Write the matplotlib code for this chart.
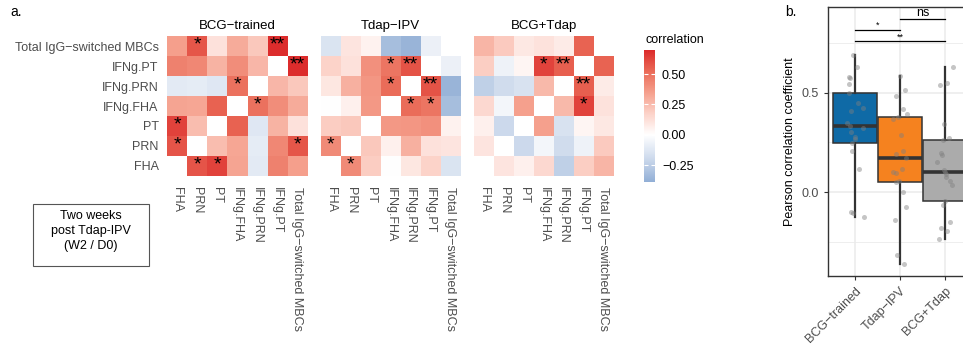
"""Correlation heatmaps per group and boxplot of the pairwise correlations."""
import numpy as np
import matplotlib
matplotlib.use("Agg")
import matplotlib.pyplot as plt
from matplotlib.colors import LinearSegmentedColormap, Normalize
from matplotlib.cm import ScalarMappable
from matplotlib.patches import Rectangle

plt.rcParams['font.family'] = ['Liberation Sans', 'DejaVu Sans']

# Variables (bottom-to-top on y, left-to-right on x)
variables = ["FHA", "PRN", "PT", "IFNg.FHA", "IFNg.PRN", "IFNg.PT",
             "Total IgG\u2212switched MBCs"]
groups = ["BCG\u2212trained", "Tdap\u2212IPV", "BCG+Tdap"]

# Pair order: (0,1) (0,2) ... (0,6) (1,2) ... (5,6)
r_bcg = [0.582, 0.633, 0.333, -0.108, 0.448, 0.350, 0.246, 0.325, -0.099, 0.426, 0.577,
         0.545, -0.126, 0.280, 0.115, 0.498, 0.409, 0.305, 0.269, 0.207, 0.692]
sig_bcg = ["*", "*", "", "", "", "", "", "", "", "", "*",
           "", "", "", "", "*", "", "", "", "", "**"]
jit_bcg = [-0.126, 0.037, -0.11, -0.044, 0.067, -0.17, -0.06, 0.178, -0.08, 0.17, -0.11,
           -0.133, 0.19, 0.0, 0.09, -0.14, -0.08, -0.08, 0.007, -0.06, -0.044]

r_tdap = [0.418, 0.192, -0.002, 0.094, 0.170, -0.141, 0.209, 0.057, 0.288, 0.116, 0.103,
          0.370, 0.377, 0.396, 0.052, 0.513, 0.487, -0.320, 0.586, -0.362, -0.074]
sig_tdap = ["*", "", "", "", "", "", "", "", "", "", "",
            "", "", "", "", "*", "*", "", "**", "", ""]
jit_tdap = [0.06, -0.08, 0.067, -0.08, 0.14, -0.11, 0.067, -0.03, 0.015, 0.044, -0.155,
            -0.155, -0.044, 0.163, -0.08, 0.104, -0.08, -0.06, 0.007, 0.09, 0.14]

r_both = [0.103, 0.056, 0.150, -0.239, 0.187, 0.274, -0.195, -0.044, -0.180, -0.066, 0.199,
          0.345, -0.150, 0.037, 0.090, 0.261, 0.633, 0.111, 0.552, 0.077, 0.540]
sig_both = ["", "", "", "", "", "", "", "", "", "", "",
            "", "", "", "", "", "*", "", "**", "", ""]
jit_both = [0.0, 0.1, -0.17, -0.13, -0.067, 0.09, 0.05, 0.007, -0.1, -0.044, -0.1,
            -0.015, 0.11, 0.15, 0.03, -0.044, 0.185, -0.015, 0.044, 0.03, -0.12]

all_r = [r_bcg, r_tdap, r_both]
all_sig = [sig_bcg, sig_tdap, sig_both]
all_jit = [jit_bcg, jit_tdap, jit_both]
box_colors = ["#0F6AA6", "#F5821F", "#ABABAB"]

n = len(variables)
pairs = [(i, j) for i in range(n) for j in range(i + 1, n)]

# colour scale (blue - white - red, white at 0)
vmin, vmax = -0.39, 0.70
nodes = [(-0.39, "#92AFD6"), (-0.2, "#CCD9EC"), (0.0, "#FFFFFF"), (0.175, "#FCD2C8"),
         (0.35, "#F59F8C"), (0.525, "#EA6A57"), (0.70, "#DC2B2B")]
cmap = LinearSegmentedColormap.from_list(
    "corr", [((v - vmin) / (vmax - vmin), c) for v, c in nodes])
cmap.set_bad("white")
norm = Normalize(vmin, vmax)

W, H = 963, 347
fig = plt.figure(figsize=(W / 100, H / 100), dpi=100)


def rect(x0, y0, x1, y1):
    return [x0 / W, 1 - y1 / H, (x1 - x0) / W, (y1 - y0) / H]


panel_x = [(167, 307), (321, 460), (474, 613)]
for g, (x0, x1) in enumerate(panel_x):
    ax = fig.add_axes(rect(x0, 36, x1, 176))
    M = np.full((n, n), np.nan)
    for (i, j), r in zip(pairs, all_r[g]):
        M[i, j] = r
        M[j, i] = r
    ax.imshow(M, cmap=cmap, norm=norm, origin="lower", aspect="auto")
    for (i, j), s in zip(pairs, all_sig[g]):
        if s:
            for a, b in [(i, j), (j, i)]:
                ax.text(b, a + 0.05, s, ha="center", va="center", fontsize=14, color="black")
    for sp in ax.spines.values():
        sp.set_visible(False)
    ax.set_xticks(range(n))
    ax.set_xticklabels(variables, rotation=270, fontsize=9, color="#4D4D4D")
    ax.set_yticks(range(n))
    if g == 0:
        ax.set_yticklabels(variables, fontsize=9, color="#4D4D4D")
    else:
        ax.set_yticklabels([])
    ax.tick_params(length=0, pad=6)
    ax.tick_params(axis="x", pad=8)
    ax.set_title(groups[g], fontsize=9.5, pad=5)

# colour bar
cax = fig.add_axes(rect(644, 50, 655, 182))
cb = fig.colorbar(ScalarMappable(norm=norm, cmap=cmap), cax=cax)
cb.outline.set_visible(False)
cb.set_ticks([-0.25, 0.0, 0.25, 0.5])
cb.set_ticklabels(["\u22120.25", "0.00", "0.25", "0.50"])
cax.tick_params(axis="y", direction="in", length=3, width=0.8, color="white",
                left=True, right=True, labelsize=9, pad=5)
fig.text(645 / W, 1 - 40 / H, "correlation", fontsize=9, ha="left", va="center")

fig.text(10 / W, 1 - 12 / H, "a.", fontsize=10, ha="left", va="center")
fig.text(785 / W, 1 - 12 / H, "b.", fontsize=10, ha="left", va="center")

# time point box
fig.patches.append(Rectangle((33 / W, 1 - 266 / H), 116 / W, 62 / H, transform=fig.transFigure,
                             fill=False, edgecolor="#555555", linewidth=0.8))
fig.text(91 / W, 1 - 231 / H, "Two weeks\npost Tdap-IPV\n(W2 / D0)", fontsize=9,
         ha="center", va="center", multialignment="center", linespacing=1.3)

# boxplot panel
bx = fig.add_axes(rect(828, 7, 972, 276))
bp = bx.boxplot(all_r, positions=[1, 2, 3], widths=0.98, patch_artist=True,
                showcaps=False, showfliers=False, whis=1.5,
                boxprops=dict(edgecolor="#333333", linewidth=1.1),
                whiskerprops=dict(color="#333333", linewidth=1.6),
                medianprops=dict(color="#333333", linewidth=2.6), zorder=2)
for patch, c in zip(bp["boxes"], box_colors):
    patch.set_facecolor(c)
for k in range(3):
    bx.scatter(np.array(all_jit[k]) + k + 1, all_r[k], s=13, color="#7F7F7F",
               alpha=0.45, linewidths=0, zorder=3)

# significance brackets
for x0, x1, y, lab, fs, dy in [(1, 2, 0.818, "*", 6.5, 0.022), (1, 3, 0.761, "**", 6.5, 0.022),
                               (2, 3, 0.874, "ns", 9, 0.028)]:
    bx.plot([x0, x1], [y, y], color="black", linewidth=0.9, zorder=4)
    bx.text((x0 + x1) / 2, y + dy, lab, ha="center", va="center", fontsize=fs)

bx.set_xlim(0.4, 3.6)
bx.set_ylim(-0.424, 0.934)
bx.set_yticks([0.0, 0.5])
bx.set_yticklabels(["0.0", "0.5"])
bx.set_yticks([-0.25, 0.25, 0.75], minor=True)
bx.set_xticks([1, 2, 3])
bx.set_xticklabels(groups, rotation=45, ha="right", rotation_mode="anchor")
bx.grid(True, which="major", color="#EBEBEB", linewidth=1.1, zorder=0)
bx.grid(True, which="minor", axis="y", color="#EBEBEB", linewidth=0.6, zorder=0)
bx.set_axisbelow(True)
bx.tick_params(axis="both", which="major", labelsize=9, labelcolor="#4D4D4D",
               color="#333333", length=3, width=0.8)
bx.tick_params(which="minor", length=0)
for sp in bx.spines.values():
    sp.set_color("#333333")
    sp.set_linewidth(1.0)
bx.set_ylabel("Pearson correlation coefficient", fontsize=9, labelpad=4)

fig.savefig("out.png", dpi=100)
